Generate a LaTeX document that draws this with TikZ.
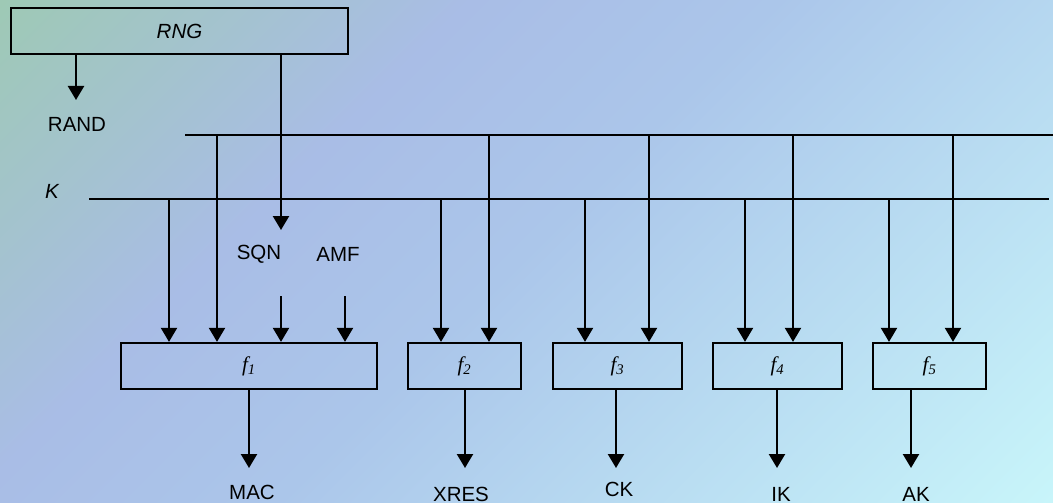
\documentclass[tikz,border=0pt]{standalone}
\usepackage{fontspec}
\setmainfont{Liberation Sans}
\newfontfamily\tmsfont{Liberation Serif}
\usetikzlibrary{arrows.meta}
\definecolor{cTL}{HTML}{9EC9B5}
\definecolor{cLav}{HTML}{A9BDE6}
\definecolor{cMid}{HTML}{ABC6EA}
\definecolor{cBR}{HTML}{C8F5FA}
\pgfdeclarehorizontalshading{bgshade}{100bp}{color(0bp)=(cTL); color(14.6bp)=(cTL); color(36bp)=(cLav); color(50bp)=(cMid); color(85.4bp)=(cBR); color(100bp)=(cBR)}
\begin{document}
\begin{tikzpicture}[x=1pt,y=-1pt,
  line width=2.3pt,
  arr/.style={-{Triangle[width=16pt,length=14pt]}},
  fbox/.style={draw, line width=2.3pt, minimum height=46pt, inner sep=0pt, font=\fontsize{21}{24}\selectfont\tmsfont\itshape},
  rbox/.style={draw, line width=2.3pt, minimum height=46pt, inner sep=0pt, font=\fontsize{20.5}{24}\selectfont\itshape},
  lbl/.style={inner sep=0pt, font=\fontsize{20.5}{24}\selectfont}]
\useasboundingbox (0,0) rectangle (1053,503);
\shade[shading=bgshade, shading angle=-45] (0,0) rectangle (1053,503);
% boxes
\node[rbox, minimum width=337pt] (RNG) at (179.5,31) {RNG};
\node[fbox, minimum width=256pt] (f1) at (249,366) {f\textsubscript{1}};
\node[fbox, minimum width=113pt] (f2) at (464.5,366) {f\textsubscript{2}};
\node[fbox, minimum width=129pt] (f3) at (617.5,366) {f\textsubscript{3}};
\node[fbox, minimum width=129pt] (f4) at (777.5,366) {f\textsubscript{4}};
\node[fbox, minimum width=113pt] (f5) at (929.5,366) {f\textsubscript{5}};
% labels
\node[lbl] (RAND) at (77,124) {RAND};
\node[lbl, font=\fontsize{20.5}{24}\selectfont\itshape] (K) at (52,191) {K};
\node[lbl] (SQN) at (259,254) {SQN};
\node[lbl] (AMF) at (338,254) {AMF};
\node[lbl] (MAC) at (252,492.5) {MAC};
\node[lbl] (XRES) at (461,494) {XRES};
\node[lbl] (CK) at (619,489.5) {CK};
\node[lbl] (IK) at (781,494) {IK};
\node[lbl] (AK) at (916,494) {AK};
% buses
\coordinate (busR0) at (185,135);
\coordinate (busR1) at (1053,135);
\coordinate (busK0) at (89,199);
\coordinate (busK1) at (1049,199);
\draw (busR0) -- (busR1);
\draw (busK0) -- (busK1);
% RNG outputs
\coordinate (r1) at (76,100);
\coordinate (r2) at (281,230);
\draw[arr] (r1 |- RNG.south) -- (r1);
\draw[arr] (r2 |- RNG.south) -- (r2);
% drops from K bus
\foreach \x/\f [count=\i] in {169/f1,441/f2,585/f3,745/f4,889/f5}{
  \coordinate (k\i) at (\x,199);
  \draw[arr] (k\i) -- (k\i |- \f.north);
}
% drops from RAND bus
\foreach \x/\f [count=\i] in {217/f1,489/f2,649/f3,793/f4,953/f5}{
  \coordinate (u\i) at (\x,135);
  \draw[arr] (u\i) -- (u\i |- \f.north);
}
% SQN / AMF inputs
\coordinate (s1) at (281,296);
\coordinate (s2) at (345,296);
\draw[arr] (s1) -- (s1 |- f1.north);
\draw[arr] (s2) -- (s2 |- f1.north);
% outputs
\foreach \x/\f [count=\i] in {249/f1,465/f2,616/f3,777/f4,911/f5}{
  \coordinate (o\i) at (\x,468);
  \draw[arr] (o\i |- \f.south) -- (o\i);
}
\end{tikzpicture}
\end{document}
